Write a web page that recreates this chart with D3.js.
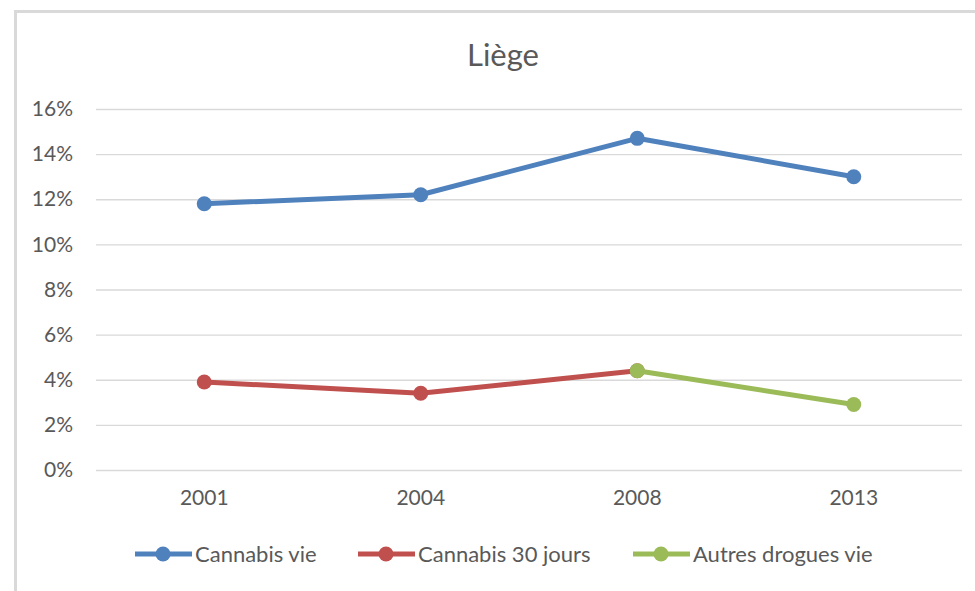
<!DOCTYPE html>
<html>
<head>
<meta charset="utf-8">
<script src="https://cdn.jsdelivr.net/npm/d3@7"></script>
<style>
  body { margin: 0; background: #fff; }
  text { font-family: Lato, "Liberation Sans", sans-serif; fill: #595959; }
</style>
</head>
<body>
<div id="graph"></div>
<script>
// chart data
const years = ["2001", "2004", "2008", "2013"];
const cannabisVie = [11.8, 12.2, 14.7, 13.0];
const cannabis30 = [3.9, 3.4, 4.4, null];
const autresDrogues = [null, null, 4.4, 2.9];
const yTicks = [0, 2, 4, 6, 8, 10, 12, 14, 16];

const WIDTH = 975, HEIGHT = 591;
const margin = {top: 109, right: 13, bottom: 121, left: 96};
const plot_w = WIDTH - margin.left - margin.right;
const plot_h = HEIGHT - margin.top - margin.bottom;

const series = [
    {name: "Cannabis vie", values: cannabisVie, color: "#4f81bd"},
    {name: "Cannabis 30 jours", values: cannabis30, color: "#c0504d"},
    {name: "Autres drogues vie", values: autresDrogues, color: "#9bbb59"}
];

let svg = d3.select("#graph")
    .append("svg")
    .attr("width", WIDTH)
    .attr("height", HEIGHT);

// chart frame
svg.append("rect")
    .attr("x", 15.5).attr("y", 11.5)
    .attr("width", 1000).attr("height", 1000)
    .attr("fill", "none")
    .attr("stroke", "#d9d9d9")
    .attr("stroke-width", 3);

svg.append("text")
    .attr("x", 503).attr("y", 66)
    .style("text-anchor", "middle")
    .style("font-size", "31px")
    .text("Liège");

let g = svg.append("g")
    .attr("transform", `translate(${margin.left}, ${margin.top})`);

let x = d3.scaleBand().domain(years).range([0, plot_w]);
let y = d3.scaleLinear().domain([0, 16]).range([plot_h, 0]);

// gridlines + y labels
g.append("g")
    .call(d3.axisLeft(y).tickValues(yTicks).tickSize(-plot_w).tickPadding(23).tickFormat(d => d + "%"))
    .call(a => a.select(".domain").remove())
    .call(a => a.selectAll("line").attr("stroke", "#d9d9d9").attr("stroke-width", 1.3))
    .call(a => a.selectAll("text").attr("fill", "#595959").style("font-size", "21px")
        .style("font-family", "Lato, 'Liberation Sans', sans-serif"));

// x labels
g.append("g")
    .attr("transform", `translate(0, ${plot_h})`)
    .call(d3.axisBottom(x).tickSize(0).tickPadding(20))
    .call(a => a.select(".domain").remove())
    .call(a => a.selectAll("text").attr("fill", "#595959").style("font-size", "21px")
        .style("font-family", "Lato, 'Liberation Sans', sans-serif"));

let line = d3.line()
    .defined(d => d.v != null)
    .x(d => x(d.year) + x.bandwidth() / 2)
    .y(d => y(d.v));

series.forEach(function(s) {
    let pts = years.map((yr, i) => ({year: yr, v: s.values[i]}));
    g.append("path")
        .datum(pts)
        .attr("fill", "none")
        .attr("stroke", s.color)
        .attr("stroke-width", 5)
        .attr("stroke-linejoin", "round")
        .attr("d", line);
    g.selectAll(null)
        .data(pts.filter(d => d.v != null))
        .enter()
        .append("circle")
        .attr("cx", d => x(d.year) + x.bandwidth() / 2)
        .attr("cy", d => y(d.v))
        .attr("r", 7.5)
        .attr("fill", s.color);
});

// legend
const legendX = [135, 358, 633];
series.forEach(function(s, i) {
    let lg = svg.append("g").attr("transform", `translate(${legendX[i]}, 554)`);
    lg.append("line")
        .attr("x1", 0).attr("x2", 57)
        .attr("stroke", s.color).attr("stroke-width", 5);
    lg.append("circle").attr("cx", 28).attr("r", 7.5).attr("fill", s.color);
    lg.append("text")
        .attr("x", 60).attr("dy", "0.35em")
        .style("font-size", "22px")
        .text(s.name);
});
</script>
</body>
</html>
